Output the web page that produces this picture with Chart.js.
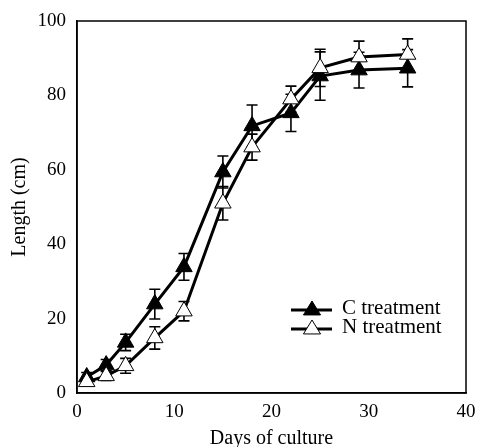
<!DOCTYPE html>
<html>
<head>
<meta charset="utf-8">
<script src="https://cdn.jsdelivr.net/npm/chart.js@4/dist/chart.umd.min.js"></script>
<style>
  html, body { margin: 0; padding: 0; background: #fff; }
  #wrap { width: 477px; height: 447px; }
</style>
</head>
<body>
<div id="wrap"><canvas id="chart" width="477" height="447"></canvas></div>
<script>
const days = [1, 3, 5, 8, 11, 15, 18, 22, 25, 29, 34]
const cLength = [4.3, 7.5, 13.6, 23.9, 33.9, 59.4, 71.8, 75.3, 85.2, 86.8, 87.3]
const cError = [1.2, 1.5, 2.2, 4.0, 3.6, 4.3, 5.6, 5.0, 6.5, 4.8, 5.0]
const nLength = [3.0, 4.6, 7.3, 14.8, 22.0, 51.0, 66.1, 79.0, 87.4, 90.3, 91.0]
const nError = [1.0, 1.2, 2.0, 3.0, 2.6, 4.5, 3.5, 3.5, 5.0, 4.3, 4.2]
const xTicks = [0, 10, 20, 30, 40]
const yTicks = [0, 20, 40, 60, 80, 100]
const seriesNames = ["C treatment", "N treatment"]

const serif = "'Liberation Serif', 'Times New Roman', serif"

const toPoints = (ys) => days.map((d, i) => ({ x: d, y: ys[i] }))

const errorBars = {
  id: "errorBars",
  beforeDatasetsDraw(chart) {
    const { ctx, scales: { x, y } } = chart
    const errs = [cError, nError]
    ctx.save()
    ctx.strokeStyle = "#000"
    ctx.lineWidth = 1.6
    chart.data.datasets.forEach((ds, di) => {
      ds.data.forEach((p, i) => {
        const px = x.getPixelForValue(p.x)
        const top = y.getPixelForValue(p.y + errs[di][i])
        const bot = y.getPixelForValue(p.y - errs[di][i])
        ctx.beginPath()
        ctx.moveTo(px, top); ctx.lineTo(px, bot)
        ctx.moveTo(px - 5.5, top); ctx.lineTo(px + 5.5, top)
        ctx.moveTo(px - 5.5, bot); ctx.lineTo(px + 5.5, bot)
        ctx.stroke()
      })
    })
    ctx.restore()
  }
}

const frameAndLegend = {
  id: "frameAndLegend",
  afterDraw(chart) {
    const { ctx, chartArea: a } = chart
    ctx.save()
    ctx.strokeStyle = "#000"
    ctx.lineWidth = 1.5
    ctx.strokeRect(a.left, a.top, a.right - a.left, a.bottom - a.top)

    // legend inside plot
    const lx = 291, ly = [310, 329]
    chart.data.datasets.forEach((ds, i) => {
      ctx.beginPath()
      ctx.lineWidth = 3
      ctx.strokeStyle = "#000"
      ctx.moveTo(lx, ly[i]); ctx.lineTo(lx + 41, ly[i])
      ctx.stroke()
      ctx.beginPath()
      const r = 9
      const cx = lx + 21, cy = ly[i]
      ctx.moveTo(cx, cy - r)
      ctx.lineTo(cx + r * 0.95, cy + r * 0.55)
      ctx.lineTo(cx - r * 0.95, cy + r * 0.55)
      ctx.closePath()
      ctx.fillStyle = ds.pointBackgroundColor
      ctx.fill()
      ctx.lineWidth = 1
      ctx.stroke()
      ctx.fillStyle = "#000"
      ctx.font = "21px " + serif
      ctx.textBaseline = "middle"
      ctx.fillText(seriesNames[i], lx + 51, ly[i] - 2)
    })
    ctx.restore()
  }
}

new Chart(document.getElementById("chart"), {
  type: "line",
  data: {
    datasets: [
      {
        label: seriesNames[0],
        data: toPoints(cLength),
        borderColor: "#000",
        borderWidth: 3,
        pointStyle: "triangle",
        pointRadius: 9.5,
        pointBackgroundColor: "#000",
        pointBorderColor: "#000",
        pointBorderWidth: 1,
        tension: 0,
        order: 1
      },
      {
        label: seriesNames[1],
        data: toPoints(nLength),
        borderColor: "#000",
        borderWidth: 3,
        pointStyle: "triangle",
        pointRadius: 9.5,
        pointBackgroundColor: "#fff",
        pointBorderColor: "#000",
        pointBorderWidth: 1,
        tension: 0,
        order: 0
      }
    ]
  },
  options: {
    responsive: false,
    animation: false,
    layout: { padding: { top: 21, right: 0, left: 0, bottom: 0 } },
    plugins: {
      legend: { display: false },
      tooltip: { enabled: false }
    },
    scales: {
      x: {
        type: "linear",
        min: 0,
        max: 40,
        afterBuildTicks: (s) => { s.ticks = xTicks.map(v => ({ value: v })) },
        afterFit: (s) => { s.height = 54; s.paddingRight = 11 },
        grid: { display: false, drawTicks: true, tickLength: 5, tickColor: "#000" },
        border: { display: true, color: "#000", width: 1.5 },
        ticks: { color: "#000", font: { family: serif, size: 19 }, padding: 3 },
        title: { display: true, text: "Days of culture", color: "#000", font: { family: serif, size: 20, lineHeight: 1 }, padding: { top: 0, bottom: -2 } }
      },
      y: {
        min: 0,
        max: 100,
        afterBuildTicks: (s) => { s.ticks = yTicks.map(v => ({ value: v })) },
        afterFit: (s) => { s.width = 77 },
        grid: { display: false, drawTicks: true, tickLength: 5, tickColor: "#000" },
        border: { display: true, color: "#000", width: 1.5 },
        ticks: { color: "#000", font: { family: serif, size: 19 }, padding: 6 },
        title: { display: true, text: "Length (cm)", color: "#000", font: { family: serif, size: 20, lineHeight: 1 }, padding: { top: 10, bottom: 0 } }
      }
    }
  },
  plugins: [errorBars, frameAndLegend]
})
</script>
</body>
</html>
